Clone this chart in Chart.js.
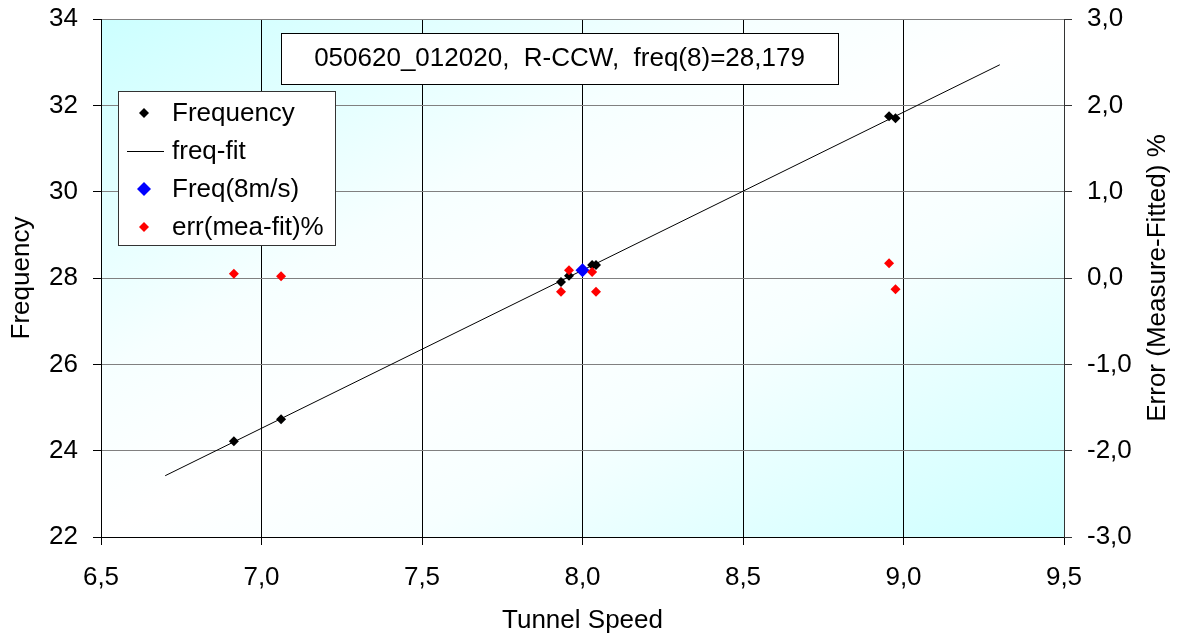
<!DOCTYPE html>
<html><head><meta charset="utf-8">
<script src="https://cdn.jsdelivr.net/npm/chart.js@4/dist/chart.umd.min.js"></script>
<style>html,body{margin:0;padding:0;background:#fff;}canvas{display:block;}</style>
</head><body>
<canvas id="c" width="1179" height="637"></canvas>
<script>
// ---- data ----
const speed   = [6.914, 7.061, 7.933, 7.958, 8.030, 8.042, 8.955, 8.975];
const freq    = [24.22, 24.73, 27.91, 28.05, 28.30, 28.30, 31.75, 31.70];
const errPct  = [0.05, 0.02, -0.16, 0.09, 0.07, -0.16, 0.17, -0.13];
const fitX    = [6.7, 9.3];
const fitY    = [23.42, 32.94];
const refX    = [8.0];
const refY    = [28.179];
const seriesNames = ['Frequency', 'freq-fit', 'Freq(8m/s)', 'err(mea-fit)%'];
const boxTitle = '050620_012020,  R-CCW,  freq(8)=28,179';
const xTitle = 'Tunnel Speed', yTitle = 'Frequency', y2Title = 'Error (Measure-Fitted) %';

const FONT = '"Liberation Sans", Arial, sans-serif';
const FS = 26;
const comma = v => Number(v).toFixed(1).replace('.', ',');
const pts = (xs, ys) => xs.map((x, i) => ({x, y: ys[i]}));

const bgPlugin = {
  id: 'bg',
  beforeDraw(chart) {
    const {ctx, chartArea: a} = chart;
    ctx.save();
    ctx.fillStyle = '#fff';
    ctx.fillRect(0, 0, chart.width, chart.height);
    const w = a.right - a.left, h = a.bottom - a.top;
    const cx = (a.left + a.right) / 2, cy = (a.top + a.bottom) / 2;
    const k = w * h / (w * w + h * h);
    const g = ctx.createLinearGradient(cx - h * k, cy - w * k, cx + h * k, cy + w * k);
    g.addColorStop(0, '#ccffff');
    g.addColorStop(0.18, '#e2ffff');
    g.addColorStop(0.34, '#f6ffff');
    g.addColorStop(0.5, '#ffffff');
    g.addColorStop(0.66, '#f6ffff');
    g.addColorStop(0.82, '#e2ffff');
    g.addColorStop(1, '#ccffff');
    ctx.fillStyle = g;
    ctx.fillRect(a.left, a.top, w, h);
    ctx.restore();
  }
};

function diamond(ctx, x, y, r, color) {
  ctx.beginPath();
  ctx.moveTo(x, y - r); ctx.lineTo(x + r, y); ctx.lineTo(x, y + r); ctx.lineTo(x - r, y);
  ctx.closePath();
  ctx.fillStyle = color; ctx.fill();
}

const annoPlugin = {
  id: 'anno',
  afterDraw(chart) {
    const {ctx, chartArea: a} = chart;
    ctx.save();
    ctx.font = FS + 'px ' + FONT;
    // title box
    ctx.fillStyle = '#fff';
    ctx.fillRect(281, 33, 557, 51);
    ctx.strokeStyle = '#000'; ctx.lineWidth = 1;
    ctx.strokeRect(281.5, 33.5, 557, 51);
    ctx.fillStyle = '#000';
    ctx.textAlign = 'center'; ctx.textBaseline = 'middle';
    ctx.fillText(boxTitle, 559.5, 59);
    // legend
    ctx.fillStyle = '#fff';
    ctx.fillRect(118, 91, 217, 154);
    ctx.strokeStyle = '#333';
    ctx.strokeRect(118.5, 91.5, 217, 154);
    ctx.textAlign = 'left';
    const ds = chart.data.datasets;
    ds.forEach((d, i) => {
      const y = 113 + i * 38;
      if (d.showLine) {
        ctx.strokeStyle = d.borderColor; ctx.lineWidth = 1;
        ctx.beginPath(); ctx.moveTo(127, y + 0.5); ctx.lineTo(164, y + 0.5); ctx.stroke();
      } else {
        diamond(ctx, 144, y, d.pointRadius, d.backgroundColor);
      }
      ctx.fillStyle = '#000';
      ctx.fillText(d.label, 172, y + 1);
    });
    // right axis title (reads bottom to top)
    ctx.translate(1158, (a.top + a.bottom) / 2);
    ctx.rotate(-Math.PI / 2);
    ctx.textAlign = 'center'; ctx.textBaseline = 'middle';
    ctx.fillStyle = '#000';
    ctx.fillText(y2Title, 0, 0);
    ctx.restore();
  }
};

const tickFont = {family: FONT, size: FS};

new Chart(document.getElementById('c'), {
  type: 'scatter',
  data: {
    datasets: [
      {label: seriesNames[0], data: pts(speed, freq), yAxisID: 'y', pointStyle: 'rectRot',
       pointRadius: 5, backgroundColor: '#000000', borderColor: '#000000', pointBorderWidth: 0, order: 4},
      {label: seriesNames[1], data: pts(fitX, fitY), yAxisID: 'y', showLine: true, pointRadius: 0,
       borderColor: '#000000', backgroundColor: '#000000', borderWidth: 1, order: 3},
      {label: seriesNames[2], data: pts(refX, refY), yAxisID: 'y', pointStyle: 'rectRot',
       pointRadius: 7, backgroundColor: '#0000ff', borderColor: '#0000ff', pointBorderWidth: 0, order: 2},
      {label: seriesNames[3], data: pts(speed, errPct), yAxisID: 'y2', pointStyle: 'rectRot',
       pointRadius: 5, backgroundColor: '#ff0000', borderColor: '#ff0000', pointBorderWidth: 0, order: 1}
    ]
  },
  options: {
    responsive: false,
    animation: false,
    events: [],
    layout: {padding: {top: 19, left: 0, right: 0, bottom: 0}, autoPadding: false},
    plugins: {legend: {display: false}, tooltip: {enabled: false}},
    scales: {
      x: {
        type: 'linear', position: 'bottom', min: 6.5, max: 9.5,
        ticks: {stepSize: 0.5, color: '#000', font: tickFont, padding: 17, maxRotation: 0, autoSkip: false,
                callback: v => comma(v)},
        grid: {color: '#000', lineWidth: 1, tickLength: 8, tickColor: '#000'},
        border: {color: '#000', width: 1},
        title: {display: true, text: xTitle, color: '#000', font: tickFont, padding: {top: 0, bottom: 1}},
        afterFit(s) { s.height = 100; s.paddingLeft = 0; s.paddingRight = 0; }
      },
      y: {
        type: 'linear', position: 'left', min: 22, max: 34,
        ticks: {stepSize: 2, color: '#000', font: tickFont, padding: 15, callback: v => String(v)},
        grid: {color: '#808080', lineWidth: 1, tickLength: 8, tickColor: '#000'},
        border: {color: '#000', width: 1},
        title: {display: true, text: yTitle, color: '#000', font: tickFont, padding: {top: 6, bottom: 0}},
        afterFit(s) { s.width = 101; s.paddingTop = 0; s.paddingBottom = 0; }
      },
      y2: {
        type: 'linear', position: 'right', min: -3, max: 3,
        ticks: {stepSize: 1, color: '#000', font: tickFont, padding: 15, callback: v => comma(v)},
        grid: {drawOnChartArea: false, tickLength: 8, tickColor: '#333'},
        border: {color: '#333', width: 1},
        title: {display: false},
        afterFit(s) { s.width = 115; s.paddingTop = 0; s.paddingBottom = 0; }
      }
    }
  },
  plugins: [bgPlugin, annoPlugin]
});
</script>
</body></html>
